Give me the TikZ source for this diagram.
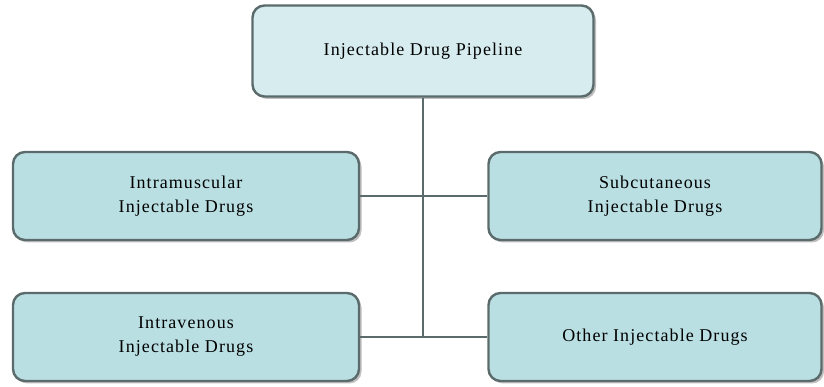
\documentclass[tikz,border=0pt]{standalone}
\usepackage{fontspec}
\setmainfont[LetterSpace=6]{Liberation Serif}
\usetikzlibrary{shadows}
\definecolor{boxline}{HTML}{5B6B6C}
\definecolor{boxfill}{HTML}{B9DFE3}
\definecolor{topfill}{HTML}{D6ECEF}
\tikzset{
  drugbox/.style={draw=boxline, line width=2.4pt, fill=boxfill, rounded corners=12pt,
    minimum width=346pt, minimum height=88pt, align=center,
    font=\fontsize{18}{24}\selectfont,
    drop shadow={shadow xshift=2.5pt, shadow yshift=-2.5pt, fill=black!25, opacity=1}},
  link/.style={draw=boxline, line width=2.4pt}
}
\begin{document}
\begin{tikzpicture}[x=1pt,y=1pt]
        \useasboundingbox (0,0) rectangle (824,387);
        \node[drugbox, fill=topfill, minimum width=341pt, minimum height=91pt] (pipe) at (423,336) {Injectable Drug Pipeline};
        \node[drugbox] (im) at (186,191) {Intramuscular\\Injectable Drugs};
        \node[drugbox, minimum width=333pt] (sc) at (655,191) {Subcutaneous\\Injectable Drugs};
        \node[drugbox] (iv) at (186,50) {Intravenous\\Injectable Drugs};
        \node[drugbox, minimum width=333pt] (oth) at (655,50) {Other Injectable Drugs};
        \draw[link] (pipe.south) -- (pipe.south |- oth.west);
        \draw[link] (im.east) -- (sc.west);
        \draw[link] (iv.east) -- (oth.west);
    \end{tikzpicture}
\end{document}
